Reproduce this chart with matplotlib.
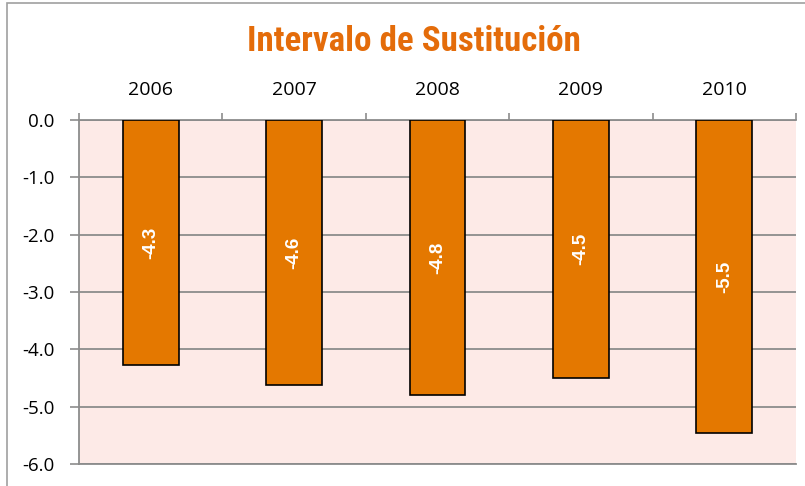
import matplotlib.pyplot as plt
import numpy as np
from matplotlib.patches import Rectangle
from matplotlib import font_manager as fm

# datos
years = ['2006', '2007', '2008', '2009', '2010']
values = [-4.27, -4.62, -4.80, -4.50, -5.46]
labels = ['-4.3', '-4.6', '-4.8', '-4.5', '-5.5']

orange = '#E47800'
grid_gray = '#8C8C8C'

# buscar una fuente estrecha en negrita para el título
narrow = None
for pref in ['Liberation Sans Narrow', 'Roboto Condensed', 'Open Sans Condensed', 'DejaVu Sans']:
    for f in fm.fontManager.ttflist:
        is_narrow = ('Narrow' in f.name or 'Condensed' in f.name or 'ondensed' in str(f.stretch)
                     or 'Narrow' in f.fname or 'Condensed' in f.fname)
        if f.name.startswith(pref) and is_narrow and f.weight in (700, 'bold') and 'Oblique' not in f.fname and 'Italic' not in f.fname:
            narrow = f.fname
            break
    if narrow:
        break

fig = plt.figure(figsize=(8.05, 4.86), dpi=100)
ax = fig.add_axes([0.0981, 0.0453, 0.8907, 0.7078])

# marco exterior del gráfico
fig.patches.append(Rectangle((0.009, -0.1), 1.2, 1.093, transform=fig.transFigure,
                             fill=False, edgecolor='#A0A0A0', linewidth=1.2))

x = np.arange(len(years))
bars = ax.bar(x, values, width=0.39, color=orange, edgecolor='black', linewidth=1.2, zorder=3)

for bar, lab in zip(bars, labels):
    ax.text(bar.get_x() + bar.get_width() / 2, bar.get_height() / 2, lab,
            rotation=90, ha='center', va='center', color='white',
            fontsize=13.5, fontweight='bold', family='Liberation Sans', zorder=4)

ax.set_facecolor('#FDEAE7')
ax.set_xlim(-0.5, len(years) - 0.5)
ax.set_ylim(-6.0, 0.0)
ax.set_yticks(np.arange(-6, 0.1, 1.0))
ax.set_yticklabels([f'{v:.1f}' for v in np.arange(-6, 0.1, 1.0)],
                   fontsize=13.5, family='Open Sans')
ax.grid(axis='y', color=grid_gray, linewidth=1.3, zorder=1)

# eje x en la parte superior, marcas en los límites de categoría
ax.xaxis.set_ticks_position('top')
ax.set_xticks(np.arange(-0.5, len(years), 1.0))
ax.set_xticklabels([])
ax.tick_params(axis='x', direction='out', length=5, color=grid_gray, width=1.2)
ax.tick_params(axis='y', direction='out', length=6.5, color=grid_gray, width=1.2, pad=11)
for i, yr in enumerate(years):
    ax.text(i, 1.087, yr, transform=ax.get_xaxis_transform(), ha='center', va='center',
            fontsize=14, family='Open Sans')

for side in ['top', 'left', 'bottom']:
    ax.spines[side].set_color(grid_gray)
    ax.spines[side].set_linewidth(1.3)
ax.spines['right'].set_visible(False)

if narrow:
    tprops = dict(fontproperties=fm.FontProperties(fname=narrow, size=25.2))
else:
    tprops = dict(fontsize=20, fontweight='bold', family='Liberation Sans')
fig.text(0.514, 1 - 51 / 486, 'Intervalo de Sustitución', ha='center', va='baseline',
         color='#E46C0A', **tprops)

fig.savefig('out.png', dpi=100)
